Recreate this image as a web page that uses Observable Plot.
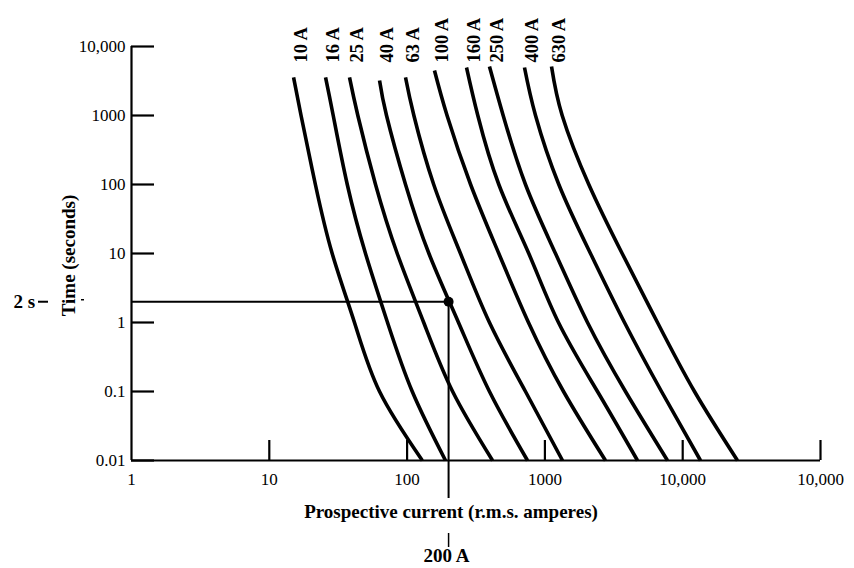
<!DOCTYPE html>
<html>
<head>
<meta charset="utf-8">
<script src="https://cdn.jsdelivr.net/npm/d3@7"></script>
<script src="https://cdn.jsdelivr.net/npm/@observablehq/plot@0.6"></script>
<style>
  html, body { margin: 0; padding: 0; background: white; }
  #chart { width: 854px; height: 568px; }
</style>
</head>
<body>
<div id="chart"></div>
<script>
// Fuse ratings (curve labels)
const ratings = ["10 A", "16 A", "25 A", "40 A", "63 A", "100 A", "160 A", "250 A", "400 A", "630 A"];
// Time (s) at the top end of each curve
const topTime = [3560, 3560, 3560, 3220, 3560, 4490, 4960, 5130, 4960, 5130];
// Common times (s) at which currents were read
const gridTime = [1000, 100, 10, 1, 0.1, 0.01];
// Prospective current (A): first value at topTime, then at each gridTime
const current10A  = [15.0, 17.0, 21.6, 28.6, 41.5, 63.1, 129];
const current16A  = [25.6, 29.1, 36.8, 49.9, 72.1, 109, 190];
const current25A  = [38.2, 43.9, 59.0, 84.8, 132, 214, 417];
const current40A  = [63.1, 70.9, 97.4, 144, 236, 396, 748];
const current63A  = [97.4, 112, 156, 244, 396, 723, 1342];
const current100A = [158, 195, 289, 463, 760, 1365, 2753];
const current160A = [270, 326, 463, 764, 1255, 2408, 4699];
const current250A = [396, 498, 723, 1194, 2038, 3845, 7757];
const current400A = [711, 855, 1262, 2142, 3781, 7020, 13465];
const current630A = [1117, 1335, 2083, 3638, 6564, 12179, 24984];
const currents = [current10A, current16A, current25A, current40A, current63A,
                  current100A, current160A, current250A, current400A, current630A];

// Axes
const yTicks = [0.01, 0.1, 1, 10, 100, 1000, 10000];
const yTickLabels = ["0.01", "0.1", "1", "10", "100", "1000", "10,000"];
const xTicks = [1, 10, 100, 1000, 10000, 100000];
const xTickLabels = ["1", "10", "100", "1000", "10,000", "10,000"];

// Worked example: 200 A gives 2 s
const exampleCurrent = [200];
const exampleTime = [2];
const exampleTimeLabel = "2 s";
const exampleCurrentLabel = "200 A";

const xTitle = "Prospective current (r.m.s. amperes)";
const yTitle = "Time (seconds)";

// Build table
const rows = [];
ratings.forEach((r, k) => {
  const times = [topTime[k], ...gridTime];
  currents[k].forEach((c, j) => rows.push({rating: r, I: c, t: times[j]}));
});
const labelRows = ratings.map((r, k) => ({rating: r, I: currents[k][0]}));

const serif = "'Liberation Serif', 'Times New Roman', serif";

const chart = Plot.plot({
  width: 854,
  height: 568,
  marginLeft: 131,
  marginRight: 34,
  marginTop: 46,
  marginBottom: 108,
  style: {background: "white", fontFamily: serif, color: "black"},
  x: {type: "log", domain: [1, 100000], axis: null},
  y: {type: "log", domain: [0.01, 10000], axis: null},
  marks: [
    // axis lines
    Plot.ruleX([1], {y1: 0.01, y2: 10000, stroke: "black", strokeWidth: 2.2}),
    Plot.ruleY([0.01], {x1: 1, x2: 100000, stroke: "black", strokeWidth: 2.2}),
    // inward ticks
    Plot.ruleY(yTicks, {y: d => d, x1: 1, x2: 1, insetRight: -23, stroke: "black", strokeWidth: 2.2}),
    Plot.ruleX(xTicks.slice(1), {x: d => d, y1: 0.01, y2: 0.01, insetTop: -20, stroke: "black", strokeWidth: 2.2}),
    // tick labels
    Plot.text(yTicks, {x: 1, y: d => d, text: (d, i) => yTickLabels[i], textAnchor: "end", dx: -6, fontSize: 17, fontFamily: serif, fill: "black"}),
    Plot.text(xTicks, {x: d => d, y: 0.01, text: (d, i) => xTickLabels[i], dy: 19, fontSize: 17, fontFamily: serif, fill: "black"}),
    // axis titles
    Plot.text([xTitle], {frameAnchor: "bottom", dx: -25, dy: 57, text: d => d, fontSize: 19, fontWeight: "bold", fontFamily: serif, fill: "black"}),
    Plot.text([yTitle], {frameAnchor: "left", dx: -63, dy: 2, rotate: -90, textAnchor: "middle", text: d => d, fontSize: 19, fontWeight: "bold", fontFamily: serif, fill: "black"}),
    // curves
    Plot.line(rows, {x: "I", y: "t", z: "rating", curve: "natural", stroke: "black", strokeWidth: 3.6, strokeLinecap: "butt"}),
    // curve labels
    Plot.text(labelRows, {x: "I", frameAnchor: "top", dy: 16, rotate: -90, textAnchor: "start", text: "rating", fontSize: 18.5, fontWeight: "bold", fontFamily: serif, fill: "black"}),
    // worked example
    Plot.ruleY(exampleTime, {y: d => d, x1: 1, x2: exampleCurrent[0], stroke: "black", strokeWidth: 2}),
    Plot.ruleX(exampleCurrent, {x: d => d, y1: exampleTime[0], y2: 0.01, insetBottom: -38, stroke: "black", strokeWidth: 2}),
    Plot.dot(exampleCurrent, {x: d => d, y: exampleTime[0], r: 5, fill: "black", stroke: "none"}),
    Plot.text(exampleTime, {y: d => d, frameAnchor: "left", dx: -118, text: [exampleTimeLabel], textAnchor: "start", fontSize: 19, fontWeight: "bold", fontFamily: serif, fill: "black"}),
    Plot.ruleY(exampleTime, {y: d => d, x1: 1, x2: 1, insetLeft: -93, insetRight: 83, stroke: "black", strokeWidth: 2}),
    Plot.ruleY(exampleTime, {y: d => d, x1: 1, x2: 1, insetLeft: -50, insetRight: 47, dy: -2, stroke: "black", strokeWidth: 1.5}),
    Plot.ruleX(exampleCurrent, {x: d => d, y1: 0.01, y2: 0.01, insetTop: 73, insetBottom: -87, stroke: "black", strokeWidth: 1.5}),
    Plot.text(exampleCurrent, {x: d => d, y: 0.01, dy: 95, dx: -2, text: [exampleCurrentLabel], fontSize: 19, fontWeight: "bold", fontFamily: serif, fill: "black"})
  ]
});
document.getElementById("chart").appendChild(chart);
</script>
</body>
</html>
